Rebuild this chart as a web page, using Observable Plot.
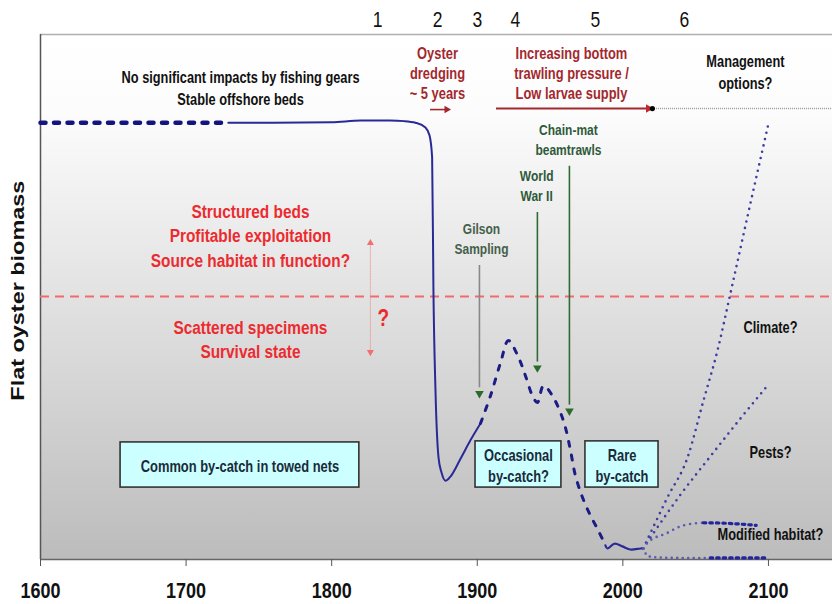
<!DOCTYPE html>
<html>
<head>
<meta charset="utf-8">
<script src="https://cdn.jsdelivr.net/npm/d3@7"></script>
<script src="https://cdn.jsdelivr.net/npm/@observablehq/plot@0.6"></script>
<style>
  html, body { margin: 0; padding: 0; background: #fff; }
</style>
</head>
<body>
<div id="chart"></div>
<script>
// ---------- DATA ----------
const xTicks = [1600, 1700, 1800, 1900, 2000, 2100];

// early (undocumented) stable period, dotted
const earlyYears  = [1600, 1729];
const earlyValues = [83.2, 83.2];

// documented decline (solid)
const histYears  = [1729, 1760, 1800, 1820, 1840, 1850, 1857.6, 1864.4, 1867.2, 1869.0, 1869.9, 1871.3, 1873.4, 1875.4, 1878.2, 1881.6, 1888.5, 1895.3, 1902.2];
const histValues = [83.2, 83.2, 83.3, 83.6, 83.6, 83.5, 83.2, 82.3, 80.8, 76.6, 51.2, 32.2, 19.4, 16.6, 15.0, 15.8, 19.2, 22.7, 25.9];

// uncertain 20th-century trajectory (dashed)
const dashYears  = [1902.2, 1909.1, 1916, 1921.4, 1928.3, 1933.1, 1937.9, 1941.3, 1945.5, 1951.6, 1957.1, 1960.6, 1964, 1967.4, 1972.3, 1977.7, 1983.2, 1988];
const dashValues = [25.9, 31.2, 37.5, 41.7, 38.5, 35.0, 31.2, 29.9, 33.1, 31.2, 28.0, 25.1, 20.8, 16.0, 11.8, 8.4, 5.5, 2.7];

// recent low state (solid wiggle)
const recentYears  = [1988, 1989.4, 1994.2, 1999.7, 2005.2, 2012.1, 2014];
const recentValues = [2.7, 2.1, 3.0, 2.5, 1.9, 2.1, 2.1];

// future scenarios
const climateYears  = [2014, 2030.6, 2044.4, 2055.4, 2065, 2073.9, 2087.6, 2100];
const climateValues = [2.1, 11.8, 19.4, 30.3, 39.8, 50.7, 67.8, 83.0];
const pestsYears    = [2014, 2021, 2040, 2060, 2080, 2099.3];
const pestsValues   = [2.1, 5.0, 12.5, 19.6, 26.6, 33.1];
const habitatYears  = [2014, 2017, 2030, 2041.6, 2055.3];
const habitatValues = [2.1, 3.2, 5.0, 6.5, 7.0];
const habitatThickYears  = [2055.3, 2071, 2091.6];
const habitatThickValues = [7.0, 6.9, 6.5];
const bottomYears   = [2014, 2017.5, 2024.4, 2040, 2060];
const bottomValues  = [2.1, 0.6, 0.4, 0.3, 0.3];
const bottomThickYears  = [2060, 2080, 2100];
const bottomThickValues = [0.3, 0.3, 0.3];

const thresholdValue = 50.1;

// phases
const phaseLabels = ["1", "2", "3", "4", "5", "6"];
const phaseYears  = [1831.5, 1872.7, 1900.1, 1926.2, 1981.2, 2042.3];

// catch boxes
const boxLabels = ["Common by-catch in towed nets", "Occasional\nby-catch?", "Rare\nby-catch"];
const boxStart  = [1655, 1898.8, 1974.3];
const boxEnd    = [1819, 1957.8, 2024.5];
const boxTop    = [22.3, 22.5, 22.5];
const boxBottom = [13.7, 13.7, 13.7];

// events (vertical arrows)
const eventLabels = ["Gilson\nSampling", "World\nWar II", "Chain-mat\nbeamtrawls"];
const eventYears  = [1901.5, 1941.3, 1963.3];
const eventTop    = [56.0, 66.1, 74.9];
const eventBottom = [30.7, 35.6, 27.4];

// ---------- LAYOUT ----------
const sans = "'Liberation Sans', Arial, Helvetica, sans-serif";
const navy = "#2a2a96";
const navyDark = "#1c1c86";
const dotBlue = "#3c3ca2";
const dotLight = "#5a5aae";
const darkRed = "#a3282e";
const brightRed = "#ec2b30";
const green = "#2f6a35";
const STRETCH = 1.25; // vertical stretch of the original artwork's lettering

const pts = (xs, ys) => xs.map((x, i) => ({x, y: ys[i]}));
const boxes = boxLabels.map((label, i) => ({label, x1: boxStart[i], x2: boxEnd[i], y1: boxBottom[i], y2: boxTop[i]}));
const events = eventLabels.map((label, i) => ({label, x: eventYears[i], y1: eventTop[i], y2: eventBottom[i]}));
const phases = phaseLabels.map((label, i) => ({label, x: phaseYears[i]}));

const chart = Plot.plot({
  width: 832,
  height: 604,
  marginLeft: 40,
  marginRight: 0,
  marginTop: 34,
  marginBottom: 45,
  x: {domain: [1600, 2144], axis: null},
  y: {domain: [0, 100], axis: null},
  style: {background: "#fff", fontFamily: sans, overflow: "visible"},
  marks: [
    Plot.frame({fill: "url(#bgGrad)", stroke: "none"}),
    // axes lines
    Plot.ruleY([100], {stroke: "#b0b0b0", strokeWidth: 1.5}),
    Plot.ruleX([1600], {stroke: "#555", strokeWidth: 1.5}),
    Plot.ruleY([0], {stroke: "#666", strokeWidth: 1.5}),
    Plot.axisX({ticks: xTicks, tickFormat: d => String(d), tickSize: 7, tickPadding: 16, fontSize: 18, fontWeight: "bold", fontFamily: sans, stroke: "#555", fill: "#111"}),
    // threshold
    Plot.ruleY([thresholdValue], {stroke: "#f26a6a", strokeWidth: 2, strokeDasharray: "9 6"}),
    // pink double arrow
    Plot.ruleX([1826.6], {y1: 39.5, y2: 60.3, stroke: "#f08080", strokeWidth: 1, strokeDasharray: "1 1"}),
    Plot.dot([{x: 1826.6, y: 60.3}], {x: "x", y: "y", symbol: "triangle", r: 2.6, fill: "#f07070", stroke: "none"}),
    Plot.dot([{x: 1826.6, y: 39.5}], {x: "x", y: "y", symbol: "triangle", rotate: 180, r: 2.6, fill: "#f07070", stroke: "none"}),
    Plot.text(["?"], {x: 1835.5, y: 45.9, fill: brightRed, fontSize: 19, fontWeight: "bold"}),
    // top phase arrows
    Plot.ruleY([85.7], {x1: 1867.9, x2: 1878.5, stroke: darkRed, strokeWidth: 1.6}),
    Plot.dot([{x: 1879.0, y: 85.7}], {x: "x", y: "y", symbol: "triangle", rotate: 90, r: 2.8, fill: darkRed, stroke: "none"}),
    Plot.ruleY([85.9], {x1: 1913.2, x2: 2017, stroke: darkRed, strokeWidth: 2}),
    Plot.dot([{x: 2017.6, y: 85.9}], {x: "x", y: "y", symbol: "triangle", rotate: 90, r: 3.2, fill: "#c0282e", stroke: "none"}),
    Plot.ruleY([85.9], {x1: 2020.3, x2: 2144, stroke: "#9a9a9a", strokeWidth: 1.5, strokeDasharray: "1 1"}),
    Plot.dot([{x: 2020.3, y: 85.9}], {x: "x", y: "y", r: 2.6, fill: "#000", stroke: "none"}),
    // event arrows
    Plot.ruleX(events, {x: "x", y1: "y1", y2: d => d.y2 + 2, stroke: (d, i) => i === 0 ? "#888" : green, strokeWidth: 1.6}),
    Plot.dot(events, {x: "x", y: d => d.y2 + 0.9, symbol: "triangle", rotate: 180, r: 3.2, fill: "#2a6a2a", stroke: "none"}),
    Plot.text(events, {x: d => d.x + (d.label.startsWith("Chain") ? -0.7 : d.label.startsWith("Gilson") ? 1.4 : -0.5), y: d => d.y1 + 5.3, text: "label", fill: (d, i) => i === 0 ? "#44604a" : "#2f5a3a", fontSize: 12, fontWeight: "bold", lineHeight: 1.33, lineAnchor: "middle"}),
    // main curve
    Plot.line(pts(earlyYears, earlyValues), {x: "x", y: "y", stroke: "#14147e", strokeWidth: 4.5, strokeDasharray: "5 8.5"}),
    Plot.line(pts(histYears, histValues), {x: "x", y: "y", stroke: navy, strokeWidth: 2, curve: "monotone-x"}),
    Plot.line(pts(dashYears, dashValues), {x: "x", y: "y", stroke: navyDark, strokeWidth: 3, strokeDasharray: "5 9", curve: "catmull-rom"}),
    Plot.line(pts(recentYears, recentValues), {x: "x", y: "y", stroke: navy, strokeWidth: 2.2, curve: "catmull-rom"}),
    // scenarios
    Plot.line(pts(climateYears, climateValues), {x: "x", y: "y", stroke: dotBlue, strokeWidth: 2.6, strokeDasharray: "0 6.5", strokeLinecap: "round", curve: "monotone-x"}),
    Plot.line(pts(pestsYears, pestsValues), {x: "x", y: "y", stroke: dotBlue, strokeWidth: 2.6, strokeDasharray: "0 6.5", strokeLinecap: "round", curve: "monotone-x"}),
    Plot.line(pts(habitatYears, habitatValues), {x: "x", y: "y", stroke: dotLight, strokeWidth: 2.6, strokeDasharray: "0 6", strokeLinecap: "round", curve: "monotone-x"}),
    Plot.line(pts(habitatThickYears, habitatThickValues), {x: "x", y: "y", stroke: "#24249c", strokeWidth: 3.2, strokeDasharray: "2.5 4", curve: "monotone-x"}),
    Plot.line(pts(bottomYears, bottomValues), {x: "x", y: "y", stroke: dotLight, strokeWidth: 2.6, strokeDasharray: "0 5.5", strokeLinecap: "round", curve: "monotone-x"}),
    Plot.line(pts(bottomThickYears, bottomThickValues), {x: "x", y: "y", stroke: "#24249c", strokeWidth: 3.2, strokeDasharray: "2.5 4"}),
    // boxes
    Plot.rect(boxes, {x1: "x1", x2: "x2", y1: "y1", y2: "y2", fill: "#ccffff", stroke: "#333", strokeWidth: 1.6}),
    Plot.text(boxes, {x: d => (d.x1 + d.x2) / 2, y: d => (d.y1 + d.y2) / 2, text: "label", fill: "#1a2a3a", fontSize: 12.9, fontWeight: "bold", lineHeight: 1.35, lineAnchor: "middle"}),
    // top annotation texts
    Plot.text(["No significant impacts by fishing gears\nStable offshore beds"], {x: 1737.4, y: 90.1, fill: "#111", fontSize: 12.8, fontWeight: "bold", lineHeight: 1.375, lineAnchor: "middle"}),
    Plot.text(["Oyster\ndredging\n~ 5 years"], {x: 1872.7, y: 92.8, fill: darkRed, fontSize: 12.9, fontWeight: "bold", lineHeight: 1.24, lineAnchor: "middle"}),
    Plot.text(["Increasing bottom\ntrawling pressure /\nLow larvae supply"], {x: 1964.7, y: 92.8, fill: darkRed, fontSize: 12.9, fontWeight: "bold", lineHeight: 1.24, lineAnchor: "middle"}),
    Plot.text(["Management\noptions?"], {x: 2084.2, y: 93.0, fill: "#111", fontSize: 12.8, fontWeight: "bold", lineHeight: 1.375, lineAnchor: "middle"}),
    // red state texts
    Plot.text(["Structured beds\nProfitable exploitation\nSource habitat in function?"], {x: 1744.2, y: 61.9, fill: brightRed, fontSize: 15.4, fontWeight: "bold", lineHeight: 1.27, lineAnchor: "middle"}),
    Plot.text(["Scattered specimens\nSurvival state"], {x: 1744.2, y: 42.2, fill: brightRed, fontSize: 15.4, fontWeight: "bold", lineHeight: 1.27, lineAnchor: "middle"}),
    // scenario labels
    Plot.text(["Climate?", "Pests?", "Modified habitat?"], {x: 2101.4, y: (d, i) => [44.2, 20.4, 4.6][i], fill: "#111", fontSize: 12.8, fontWeight: "bold"}),
    // phase numbers
    Plot.text(phases, {x: "x", y: 102.7, text: "label", fill: "#111", fontSize: 17.5, fontWeight: "normal"}),
    // y label
    Plot.text(["Flat oyster biomass"], {x: 1600, y: 51.2, dx: -22, rotate: -90, fill: "#111", fontSize: 18, fontWeight: "bold"})
  ]
});

// gradient definition for plot background
const svg = d3.select(chart.tagName.toLowerCase() === "svg" ? chart : chart.querySelector("svg"));
const defs = svg.insert("defs", ":first-child");
const grad = defs.append("linearGradient").attr("id", "bgGrad").attr("x1", 0).attr("y1", 0).attr("x2", 0).attr("y2", 1);
grad.append("stop").attr("offset", "0%").attr("stop-color", "#ffffff");
grad.append("stop").attr("offset", "15%").attr("stop-color", "#fcfcfc");
grad.append("stop").attr("offset", "55%").attr("stop-color", "#dedede");
grad.append("stop").attr("offset", "100%").attr("stop-color", "#bcbcbc");

// the original lettering is tall and narrow: stretch horizontal text vertically
svg.selectAll("text").each(function() {
  const t = d3.select(this);
  if (this.textContent === "Flat oyster biomass") {
    t.attr("textLength", 220).attr("lengthAdjust", "spacingAndGlyphs");
    return;
  }
  const tr = t.attr("transform") || "";
  t.attr("transform", (tr + ` scale(1,${STRETCH})`).trim());
});

document.getElementById("chart").appendChild(chart);
</script>
</body>
</html>
